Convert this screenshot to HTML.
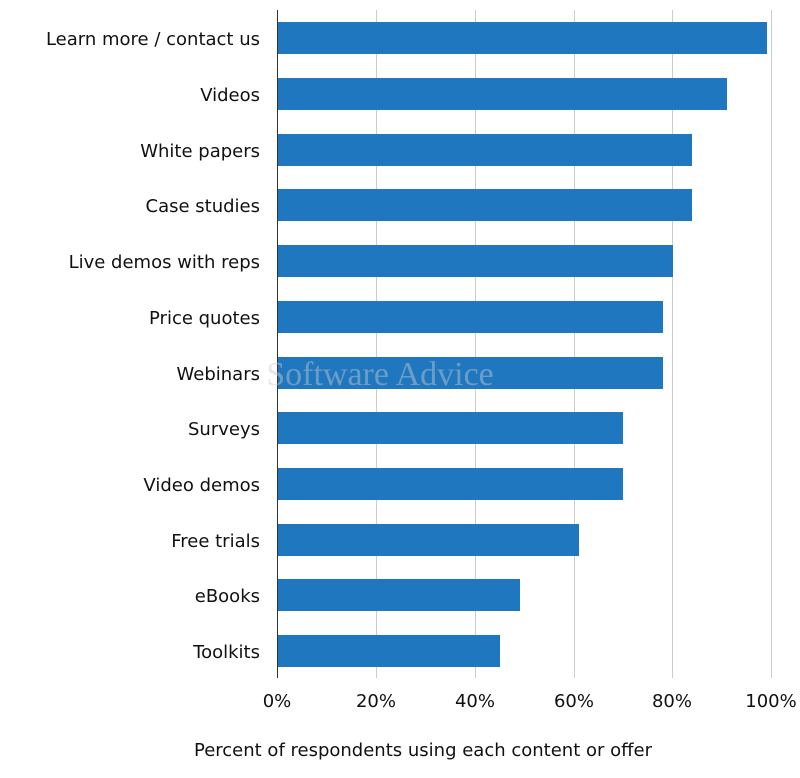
<!DOCTYPE html>
<html><head><style>
body{margin:0;background:#fff;}
svg{display:block;font-family:"DejaVu Sans","Liberation Sans",sans-serif;}
</style></head><body>
<svg width="800" height="778" xmlns="http://www.w3.org/2000/svg">
<g stroke="#cccccc" stroke-width="1">
<line x1="376.5" y1="10" x2="376.5" y2="678"/>
<line x1="475.5" y1="10" x2="475.5" y2="678"/>
<line x1="574.5" y1="10" x2="574.5" y2="678"/>
<line x1="672.5" y1="10" x2="672.5" y2="678"/>
<line x1="771.5" y1="10" x2="771.5" y2="678"/>
</g>
<line x1="277.5" y1="10" x2="277.5" y2="678" stroke="#333" stroke-width="1"/>
<g fill="#1f77bf">
<rect x="278" y="22" width="489" height="32"/>
<rect x="278" y="78" width="449" height="32"/>
<rect x="278" y="134" width="414" height="32"/>
<rect x="278" y="189" width="414" height="32"/>
<rect x="278" y="245" width="395" height="32"/>
<rect x="278" y="301" width="385" height="32"/>
<rect x="278" y="357" width="385" height="32"/>
<rect x="278" y="412" width="345" height="32"/>
<rect x="278" y="468" width="345" height="32"/>
<rect x="278" y="524" width="301" height="32"/>
<rect x="278" y="579" width="242" height="32"/>
<rect x="278" y="635" width="222" height="32"/>
</g>
<text x="380" y="385" font-family="Liberation Serif,serif" font-size="34" fill="#cccccc" fill-opacity="0.45" text-anchor="middle">Software Advice</text>
<g font-size="18" fill="#111" text-anchor="end">
<text x="260" y="45">Learn more / contact us</text>
<text x="260" y="101">Videos</text>
<text x="260" y="157">White papers</text>
<text x="260" y="212">Case studies</text>
<text x="260" y="268">Live demos with reps</text>
<text x="260" y="324">Price quotes</text>
<text x="260" y="380">Webinars</text>
<text x="260" y="435">Surveys</text>
<text x="260" y="491">Video demos</text>
<text x="260" y="547">Free trials</text>
<text x="260" y="602">eBooks</text>
<text x="260" y="658">Toolkits</text>
</g>
<g font-size="18" fill="#111" text-anchor="middle">
<text x="277" y="707">0%</text>
<text x="376" y="707">20%</text>
<text x="475" y="707">40%</text>
<text x="574" y="707">60%</text>
<text x="672" y="707">80%</text>
<text x="771" y="707">100%</text>
<text x="423" y="756">Percent of respondents using each content or offer</text>
</g>
</svg>
</body></html>
